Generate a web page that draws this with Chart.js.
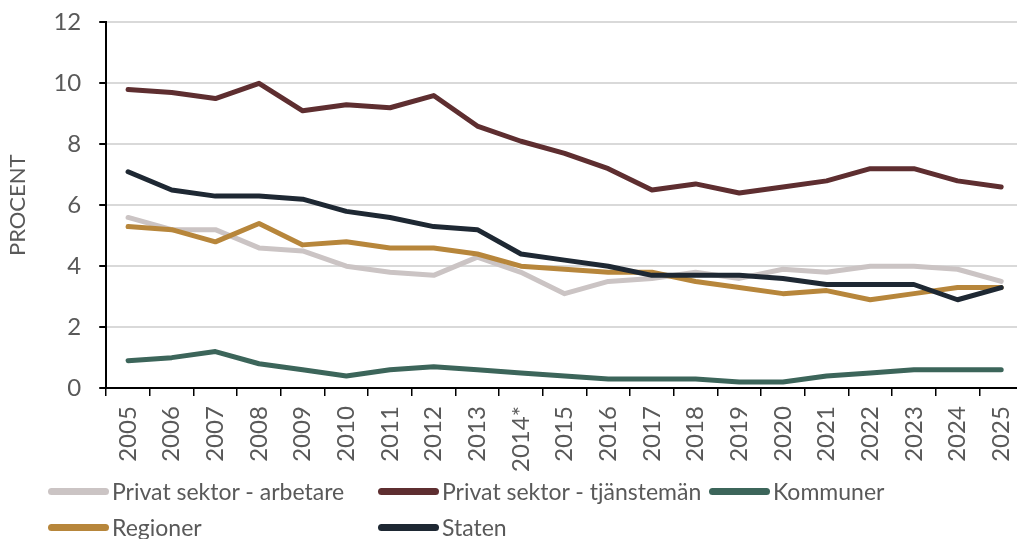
<!DOCTYPE html>
<html>
<head>
<meta charset="utf-8">
<script src="https://cdn.jsdelivr.net/npm/chart.js@4"></script>
<style>
  html, body { margin: 0; padding: 0; background: #fff; overflow: hidden; }
  #wrap { position: relative; width: 1017px; height: 539px; overflow: hidden; }
  #chart { position: absolute; left: 0; top: -10px; }
  #legend { position: absolute; left: 0; top: 0; width: 1017px; height: 539px; pointer-events: none; }
  .item { position: absolute; display: flex; align-items: center; font-family: Lato, sans-serif; font-size: 23px; color: #595959; white-space: nowrap; }
  .sw { width: 61px; height: 7px; border-radius: 4px; margin-right: 3px; }
</style>
</head>
<body>
<div id="wrap">
  <canvas id="chart" width="1040" height="549"></canvas>
  <div id="legend"></div>
</div>
<script>
const years = ['2005','2006','2007','2008','2009','2010','2011','2012','2013','2014*','2015','2016','2017','2018','2019','2020','2021','2022','2023','2024','2025'];

const privatArbetare = [5.6, 5.2, 5.2, 4.6, 4.5, 4.0, 3.8, 3.7, 4.3, 3.8, 3.1, 3.5, 3.6, 3.8, 3.6, 3.9, 3.8, 4.0, 4.0, 3.9, 3.5];
const privatTjansteman = [9.8, 9.7, 9.5, 10.0, 9.1, 9.3, 9.2, 9.6, 8.6, 8.1, 7.7, 7.2, 6.5, 6.7, 6.4, 6.6, 6.8, 7.2, 7.2, 6.8, 6.6];
const kommuner = [0.9, 1.0, 1.2, 0.8, 0.6, 0.4, 0.6, 0.7, 0.6, 0.5, 0.4, 0.3, 0.3, 0.3, 0.2, 0.2, 0.4, 0.5, 0.6, 0.6, 0.6];
const regioner = [5.3, 5.2, 4.8, 5.4, 4.7, 4.8, 4.6, 4.6, 4.4, 4.0, 3.9, 3.8, 3.8, 3.5, 3.3, 3.1, 3.2, 2.9, 3.1, 3.3, 3.3];
const staten = [7.1, 6.5, 6.3, 6.3, 6.2, 5.8, 5.6, 5.3, 5.2, 4.4, 4.2, 4.0, 3.7, 3.7, 3.7, 3.6, 3.4, 3.4, 3.4, 2.9, 3.3];

const seriesNames = ['Privat sektor - arbetare', 'Privat sektor - tjänstemän', 'Kommuner', 'Regioner', 'Staten'];
const seriesData = [privatArbetare, privatTjansteman, kommuner, regioner, staten];
const seriesColors = ['#CBC4C4', '#5E2E30', '#3C655A', '#B7863B', '#1E2833'];

const yTicks = [0, 2, 4, 6, 8, 10, 12];

const datasets = seriesNames.map(function(name, i) {
  return {
    label: name,
    data: seriesData[i],
    borderColor: seriesColors[i],
    backgroundColor: seriesColors[i],
    borderWidth: 5,
    borderCapStyle: 'round',
    borderJoinStyle: 'round',
    pointRadius: 0,
    tension: 0,
    order: seriesNames.length - i   // later series on top, like the original
  };
});

const ctx = document.getElementById('chart').getContext('2d');
new Chart(ctx, {
  type: 'line',
  data: { labels: years, datasets: datasets },
  options: {
    responsive: false,
    animation: false,
    layout: { padding: { top: 0, bottom: 57, left: 5, right: 0 } },
    plugins: { legend: { display: false }, tooltip: { enabled: false } },
    scales: {
      x: {
        offset: true,
        grid: { display: true, offset: true, drawOnChartArea: false, tickLength: 8, tickColor: '#000', lineWidth: 1.5 },
        border: { color: '#000', width: 2 },
        ticks: {
          color: '#595959',
          font: { family: 'Lato', size: 24 },
          maxRotation: 90, minRotation: 90,
          autoSkip: false,
          padding: 10
        }
      },
      y: {
        min: 0, max: 12,
        afterBuildTicks: function(axis) { axis.ticks = yTicks.map(function(v) { return { value: v }; }); },
        grid: { color: '#D9D9D9', lineWidth: 2, tickLength: 7, tickColor: '#000' },
        border: { color: '#000', width: 2 },
        ticks: { color: '#595959', font: { family: 'Lato', size: 24 }, padding: 18 },
        title: { display: true, text: 'PROCENT', color: '#595959', font: { family: 'Lato', size: 22 }, padding: { top: 0, bottom: 4 } }
      }
    }
  }
});

// legend below the chart, laid out in columns
const legend = document.getElementById('legend');
const itemLeft = [48, 378, 709, 48, 378];
const itemCenter = [492, 492, 492, 528, 528];
seriesNames.forEach(function(name, i) {
  const el = document.createElement('div');
  el.className = 'item';
  el.style.left = itemLeft[i] + 'px';
  el.style.top = (itemCenter[i] - 15) + 'px';
  el.innerHTML = '<div class="sw" style="background:' + seriesColors[i] + '"></div><span>' + name + '</span>';
  legend.appendChild(el);
});
</script>
</body>
</html>
